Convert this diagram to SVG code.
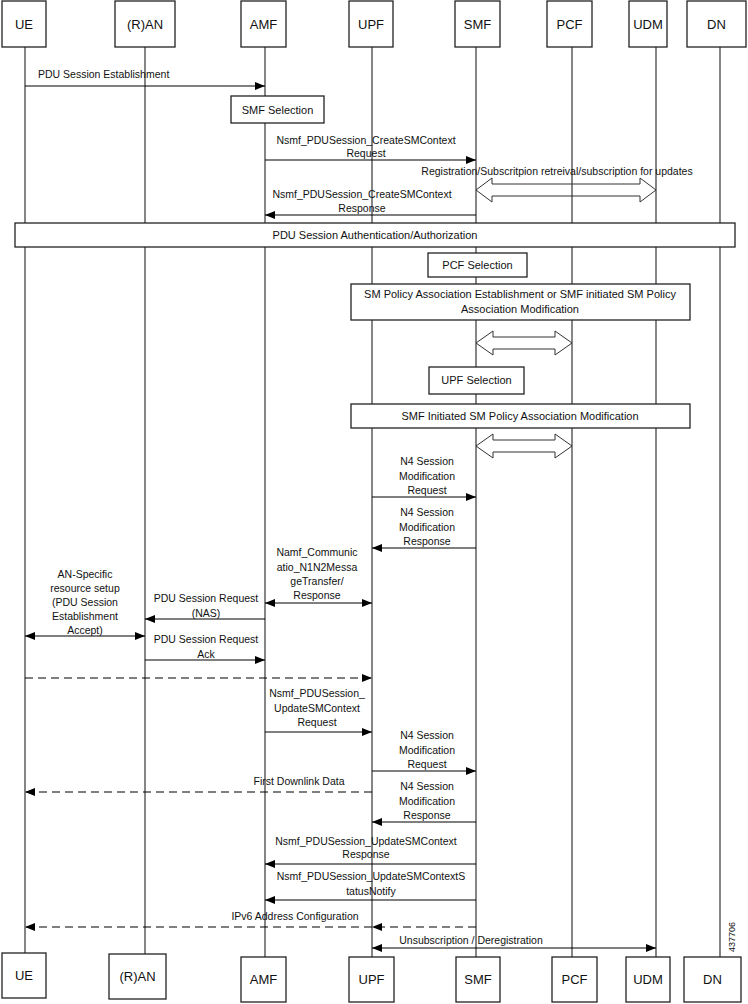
<svg xmlns="http://www.w3.org/2000/svg" width="748" height="1004" viewBox="0 0 748 1004">
<defs>
<style>
.box{fill:#fff;stroke:#222;stroke-width:1.3}
.life{stroke:#444;stroke-width:1.3;fill:none}
.msg{stroke:#000;stroke-width:1.1;fill:none}
.dash{stroke:#000;stroke-width:1.1;fill:none;stroke-dasharray:8,5}
.blk{fill:none;stroke:#333;stroke-width:1}
.t{font-family:"Liberation Sans",Arial,sans-serif;font-size:10.5px;fill:#111;text-anchor:middle}
.h{font-family:"Liberation Sans",Arial,sans-serif;font-size:13px;fill:#111;text-anchor:middle}
.s{font-family:"Liberation Sans",Arial,sans-serif;font-size:11px;fill:#111;text-anchor:middle}
</style>
<marker id="ah" markerWidth="10" markerHeight="8" refX="10" refY="4" orient="auto-start-reverse" markerUnits="userSpaceOnUse"><path d="M0,0 L10,4 L0,8 z" fill="#000"/></marker>
</defs>
<rect width="748" height="1004" fill="#fff"/>

<g id="lifelines">
<line class="life" x1="25" y1="47" x2="25" y2="954"/>
<line class="life" x1="145" y1="47" x2="145" y2="955"/>
<line class="life" x1="265" y1="47" x2="265" y2="957"/>
<line class="life" x1="372" y1="47" x2="372" y2="957"/>
<line class="life" x1="476" y1="47" x2="476" y2="957"/>
<line class="life" x1="572" y1="47" x2="572" y2="957"/>
<line class="life" x1="656" y1="47" x2="656" y2="957"/>
<line class="life" x1="720" y1="47" x2="720" y2="957"/>
</g>

<g id="node-UE"><rect class="box" x="2" y="1" width="44" height="46"/><text class="h" x="24" y="29">UE</text>
<rect class="box" x="2" y="953" width="44" height="45"/><text class="h" x="24" y="980">UE</text></g>
<g id="node-RAN"><rect class="box" x="115" y="1" width="60" height="46"/><text class="h" x="145" y="29">(R)AN</text>
<rect class="box" x="109" y="954" width="57" height="45"/><text class="h" x="137.5" y="981">(R)AN</text></g>
<g id="node-AMF"><rect class="box" x="241" y="1" width="45" height="46"/><text class="h" x="263.5" y="29">AMF</text>
<rect class="box" x="241" y="957" width="45" height="45"/><text class="h" x="263.5" y="984">AMF</text></g>
<g id="node-UPF"><rect class="box" x="349" y="1" width="44" height="46"/><text class="h" x="371" y="29">UPF</text>
<rect class="box" x="349" y="957" width="45" height="45"/><text class="h" x="371.5" y="984">UPF</text></g>
<g id="node-SMF"><rect class="box" x="455" y="1" width="45" height="46"/><text class="h" x="477.5" y="29">SMF</text>
<rect class="box" x="456" y="957" width="44" height="45"/><text class="h" x="478" y="984">SMF</text></g>
<g id="node-PCF"><rect class="box" x="547" y="1" width="45" height="46"/><text class="h" x="569.5" y="29">PCF</text>
<rect class="box" x="552" y="957" width="45" height="45"/><text class="h" x="574.5" y="984">PCF</text></g>
<g id="node-UDM"><rect class="box" x="629" y="1" width="38" height="46"/><text class="h" x="648" y="29">UDM</text>
<rect class="box" x="626" y="957" width="44" height="45"/><text class="h" x="648" y="984">UDM</text></g>
<g id="node-DN"><rect class="box" x="687" y="1" width="59" height="46"/><text class="h" x="716.5" y="29">DN</text>
<rect class="box" x="684" y="957" width="57" height="45"/><text class="h" x="712.5" y="984">DN</text></g>

<g id="node-smf-selection"><rect class="box" x="231" y="96" width="93" height="27"/><text class="s" x="277.5" y="114">SMF Selection</text></g>
<g id="node-auth"><rect class="box" x="15" y="223" width="720" height="24"/><text class="s" x="375" y="239">PDU Session Authentication/Authorization</text></g>
<g id="node-pcf-selection"><rect class="box" x="428" y="253" width="99" height="24"/><text class="s" x="477.5" y="269">PCF Selection</text></g>
<g id="node-sm-policy"><rect class="box" x="351" y="284" width="339" height="36"/><text class="s" x="520" y="298">SM Policy Association Establishment or SMF initiated SM Policy</text><text class="s" x="520" y="313">Association Modification</text></g>
<g id="node-upf-selection"><rect class="box" x="429" y="367" width="95" height="27"/><text class="s" x="476.5" y="384">UPF Selection</text></g>
<g id="node-smf-initiated"><rect class="box" x="351" y="404" width="339" height="24"/><text class="s" x="520" y="420">SMF Initiated SM Policy Association Modification</text></g>

<g id="connectors">
<line class="msg" x1="25" y1="86" x2="265" y2="86" marker-end="url(#ah)"/>
<line class="msg" x1="265" y1="160" x2="476" y2="160" marker-end="url(#ah)"/>
<path class="blk" d="M476,190 L492,178 L492,184 L640,184 L640,178 L656,190 L640,202 L640,196 L492,196 L492,202 Z"/>
<line class="msg" x1="476" y1="215" x2="265" y2="215" marker-end="url(#ah)"/>
<path class="blk" d="M476,343 L493,331 L493,337 L555,337 L555,331 L572,343 L555,355 L555,349 L493,349 L493,355 Z"/>
<path class="blk" d="M476,446 L493,434 L493,440 L555,440 L555,434 L572,446 L555,458 L555,452 L493,452 L493,458 Z"/>
<line class="msg" x1="372" y1="497" x2="476" y2="497" marker-end="url(#ah)"/>
<line class="msg" x1="476" y1="548" x2="372" y2="548" marker-end="url(#ah)"/>
<line class="msg" x1="265" y1="603" x2="372" y2="603" marker-start="url(#ah)" marker-end="url(#ah)"/>
<line class="msg" x1="265" y1="619" x2="145" y2="619" marker-end="url(#ah)"/>
<line class="msg" x1="25" y1="636" x2="145" y2="636" marker-start="url(#ah)" marker-end="url(#ah)"/>
<line class="msg" x1="145" y1="660" x2="265" y2="660" marker-end="url(#ah)"/>
<line class="dash" x1="25" y1="678" x2="372" y2="678" marker-end="url(#ah)"/>
<line class="msg" x1="265" y1="732" x2="372" y2="732" marker-end="url(#ah)"/>
<line class="msg" x1="372" y1="771" x2="476" y2="771" marker-end="url(#ah)"/>
<line class="dash" x1="372" y1="792" x2="25" y2="792" marker-end="url(#ah)"/>
<line class="msg" x1="476" y1="822" x2="372" y2="822" marker-end="url(#ah)"/>
<line class="msg" x1="476" y1="864" x2="265" y2="864" marker-end="url(#ah)"/>
<line class="msg" x1="476" y1="900" x2="265" y2="900" marker-end="url(#ah)"/>
<line class="dash" x1="476" y1="927" x2="372" y2="927" marker-end="url(#ah)"/>
<line class="dash" x1="372" y1="927" x2="25" y2="927" marker-end="url(#ah)"/>
<line class="msg" x1="372" y1="948" x2="656" y2="948" marker-start="url(#ah)" marker-end="url(#ah)"/>
</g>

<g id="labels">
<text class="t" x="38" y="78" style="text-anchor:start">PDU Session Establishment</text>
<text class="t" x="366" y="144">Nsmf_PDUSession_CreateSMContext</text>
<text class="t" x="366" y="157">Request</text>
<text class="t" x="557" y="175">Registration/Subscritpion retreival/subscription for updates</text>
<text class="t" x="362" y="198">Nsmf_PDUSession_CreateSMContext</text>
<text class="t" x="362" y="212">Response</text>
<text class="t" x="427" y="465">N4 Session</text>
<text class="t" x="427" y="480">Modification</text>
<text class="t" x="427" y="494">Request</text>
<text class="t" x="427" y="516">N4 Session</text>
<text class="t" x="427" y="531">Modification</text>
<text class="t" x="427" y="545">Response</text>
<text class="t" x="317" y="556">Namf_Communic</text>
<text class="t" x="317" y="571">atio_N1N2Messa</text>
<text class="t" x="317" y="585">geTransfer/</text>
<text class="t" x="317" y="599">Response</text>
<text class="t" x="206" y="602">PDU Session Request</text>
<text class="t" x="206" y="617">(NAS)</text>
<text class="t" x="85" y="578">AN-Specific</text>
<text class="t" x="85" y="592">resource setup</text>
<text class="t" x="85" y="606">(PDU Session</text>
<text class="t" x="85" y="620">Establishment</text>
<text class="t" x="85" y="634">Accept)</text>
<text class="t" x="206" y="643">PDU Session Request</text>
<text class="t" x="206" y="658">Ack</text>
<text class="t" x="317" y="697">Nsmf_PDUSession_</text>
<text class="t" x="317" y="712">UpdateSMContext</text>
<text class="t" x="317" y="726">Request</text>
<text class="t" x="427" y="739">N4 Session</text>
<text class="t" x="427" y="754">Modification</text>
<text class="t" x="427" y="768">Request</text>
<text class="t" x="299" y="785">First Downlink Data</text>
<text class="t" x="427" y="790">N4 Session</text>
<text class="t" x="427" y="805">Modification</text>
<text class="t" x="427" y="819">Response</text>
<text class="t" x="366" y="845">Nsmf_PDUSession_UpdateSMContext</text>
<text class="t" x="366" y="858">Response</text>
<text class="t" x="371" y="880">Nsmf_PDUSession_UpdateSMContextS</text>
<text class="t" x="371" y="895">tatusNotify</text>
<text class="t" x="295" y="920">IPv6 Address Configuration</text>
<text class="t" x="471" y="944">Unsubscription / Deregistration</text>
<text class="t" x="0" y="0" style="font-size:9px" transform="translate(735,937) rotate(-90)">437706</text>
</g>
</svg>
